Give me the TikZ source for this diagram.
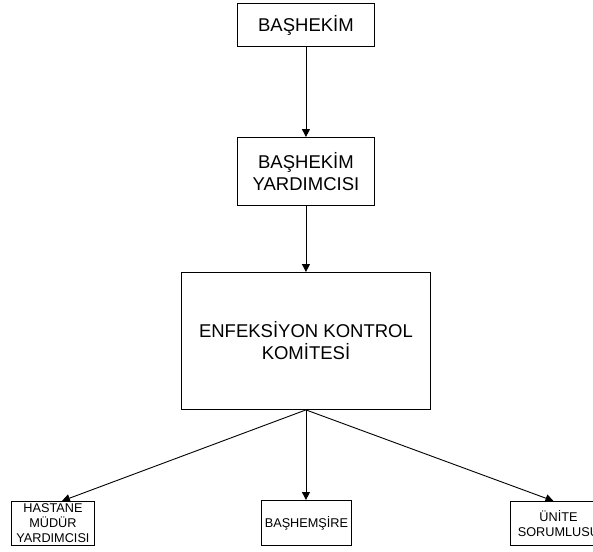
\documentclass[tikz,border=0pt]{standalone}
\usepackage{fontspec}
\setmainfont{Liberation Sans}
\usetikzlibrary{arrows.meta}
\begin{document}
\begin{tikzpicture}[x=1pt,y=-1pt,
  box/.style={draw,line width=0.9pt,rectangle,inner sep=0pt,align=center,anchor=north west},
  bigtext/.style={font=\fontsize{18.5}{22}\selectfont},
  smalltext/.style={font=\fontsize{12.7}{15}\selectfont},
  conn/.style={line width=0.9pt,-{Triangle[length=8pt,width=8pt]}}]
\useasboundingbox (0,0) rectangle (593,551);
\clip (0,0) rectangle (593,551);
% top chain
\node[box,bigtext,minimum width=137pt,minimum height=43pt] (bh) at (237,3) {BAŞHEKİM};
\node[box,bigtext,minimum width=137pt,minimum height=68pt] (bhy) at (237,137) {BAŞHEKİM\\YARDIMCISI};
\node[box,bigtext,minimum width=249pt,minimum height=137pt] (ekk) at (181,272) {ENFEKSİYON KONTROL\\KOMİTESİ};
% bottom row
\node[box,smalltext,minimum width=83pt,minimum height=44pt] (hmy) at (11,501) {HASTANE\\MÜDÜR\\YARDIMCISI};
\node[box,smalltext,minimum width=90pt,minimum height=45pt] (bhs) at (261,500) {BAŞHEMŞİRE};
\node[box,smalltext,minimum width=96pt,minimum height=44pt] (us) at (510,501) {ÜNİTE\\SORUMLUSU};
% connectors
\draw[conn] (bh.south) -- (bhy.north);
\draw[conn] (bhy.south) -- (ekk.north);
\draw[conn] (ekk.south) -- ([xshift=9pt]hmy.north);
\draw[conn] (ekk.south) -- (ekk.south |- bhs.north);
\draw[conn] (ekk.south) -- ([xshift=-5pt]us.north);
\end{tikzpicture}
\end{document}
